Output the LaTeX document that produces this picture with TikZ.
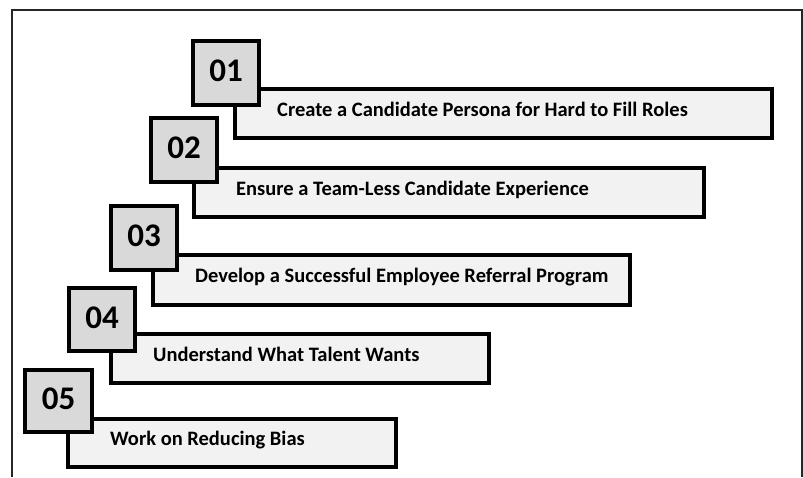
\documentclass[tikz,border=0pt]{standalone}
\usepackage{fontspec}
\setmainfont{Carlito}
\begin{document}
\begin{tikzpicture}[x=1pt,y=-1pt,
  framestroke/.style={draw=black!85,line width=1.8pt},
  numbox/.style={draw=black,line width=4pt,fill=black!15,outer sep=0pt,inner sep=0pt,
    anchor=north west,minimum width=66pt,minimum height=64pt},
  stepbar/.style={draw=black,line width=4pt,fill=black!5,outer sep=0pt,inner sep=0pt,
    anchor=north west,minimum height=49pt},
  numtext/.style={font=\fontsize{33}{33}\selectfont\bfseries,inner sep=0pt},
  bartext/.style={font=\fontsize{20.5}{20.5}\selectfont\bfseries,inner sep=0pt,anchor=base west}
]
\useasboundingbox (0,0) rectangle (803,477);

% open frame: top, left and right edges
\coordinate (fa) at (12,477);
\coordinate (fb) at (12,10);
\coordinate (fc) at (802,10);
\coordinate (fd) at (802,477);
\draw[framestroke] (fa) -- (fb) -- (fc) -- (fd);

% step 01
\node[stepbar,minimum width=537pt] (r1) at (235,89) {};
\node[numbox] (s1) at (193,41) {};
\node[numtext] (n1) at ([yshift=2pt]s1.center) {01};
\node[bartext] (t1) at ([xshift=42pt,yshift=-2.5pt]r1.west) {Create a Candidate Persona for Hard to Fill Roles};

% step 02
\node[stepbar,minimum width=510pt] (r2) at (194,168) {};
\node[numbox] (s2) at (151,118) {};
\node[numtext] (n2) at ([yshift=2pt]s2.center) {02};
\node[bartext] (t2) at ([xshift=42pt,yshift=-2.5pt]r2.west) {Ensure a Team-Less Candidate Experience};

% step 03
\node[stepbar,minimum width=477pt,minimum height=50pt] (r3) at (153,255) {};
\node[numbox] (s3) at (111,206) {};
\node[numtext] (n3) at ([yshift=2pt]s3.center) {03};
\node[bartext] (t3) at ([xshift=42pt,yshift=-2.5pt]r3.west) {Develop a Successful Employee Referral Program};

% step 04
\node[stepbar,minimum width=378pt] (r4) at (111,334) {};
\node[numbox,minimum height=63pt] (s4) at (69,288) {};
\node[numtext] (n4) at ([yshift=2pt]s4.center) {04};
\node[bartext] (t4) at ([xshift=42pt,yshift=-2.5pt]r4.west) {Understand What Talent Wants};

% step 05
\node[stepbar,minimum width=328pt,minimum height=48pt] (r5) at (68,419) {};
\node[numbox,minimum width=67pt,minimum height=62pt] (s5) at (25,370) {};
\node[numtext] (n5) at ([yshift=2pt]s5.center) {05};
\node[bartext] (t5) at ([xshift=42pt,yshift=-2.5pt]r5.west) {Work on Reducing Bias};
\end{tikzpicture}
\end{document}
